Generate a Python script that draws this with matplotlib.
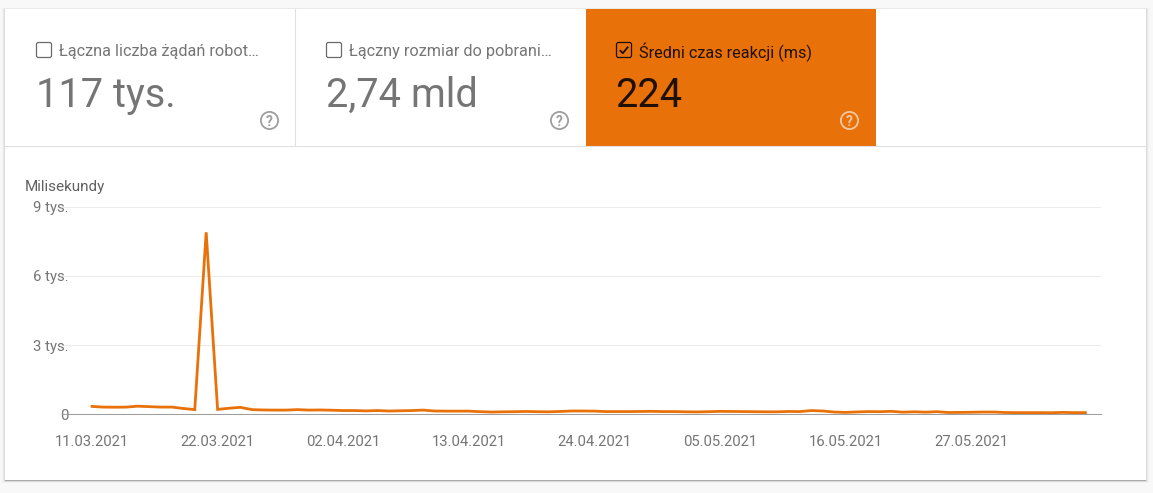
import matplotlib
matplotlib.use("Agg")
import matplotlib.pyplot as plt
import matplotlib.dates as mdates
from matplotlib.patches import Rectangle, FancyBboxPatch, Circle
import pandas as pd

plt.rcParams['font.family'] = ['Roboto', 'DejaVu Sans']

W, H = 1153, 493

response_ms = [330, 300, 295, 300, 340, 320, 300, 300, 240, 190, 7900, 200, 250, 290, 190,
               175, 170, 170, 190, 170, 175, 165, 150, 150, 135, 150, 130, 140, 150, 170,
               130, 125, 125, 125, 100, 85, 95, 100, 110, 100, 95, 110, 130, 130, 125,
               105, 105, 105, 110, 115, 105, 105, 95, 90, 100, 115, 110, 105, 100, 95,
               95, 110, 105, 150, 130, 85, 70, 90, 105, 100, 115, 80, 95, 80, 100,
               65, 70, 75, 85, 85, 65, 60, 60, 60, 55, 70, 60, 60]
start_date = "2021-03-11"
tick_dates = ["2021-03-11", "2021-03-22", "2021-04-02", "2021-04-13",
              "2021-04-24", "2021-05-05", "2021-05-16", "2021-05-27"]
tick_labels = ["11.03.2021", "22.03.2021", "02.04.2021", "13.04.2021",
               "24.04.2021", "05.05.2021", "16.05.2021", "27.05.2021"]
y_ticks = [0, 3000, 6000, 9000]
y_labels = ["0", "3 tys.", "6 tys.", "9 tys."]
card_titles = ["Łączna liczba żądań robot…", "Łączny rozmiar do pobrani…", "Średni czas reakcji (ms)"]
card_values = ["117 tys.", "2,74 mld", "224"]
card_selected = [False, False, True]

ORANGE = "#E8710A"
GREY = "#757575"
DARK = "#1F1005"

fig = plt.figure(figsize=(W / 100, H / 100), dpi=100, facecolor="#F8F8F8")

# page furniture, in pixel coordinates
bg = fig.add_axes([0, 0, 1, 1])
bg.set_xlim(0, W)
bg.set_ylim(H, 0)
bg.axis("off")

for grow, drop, a in [(3, 2.5, 0.02), (2, 2, 0.04), (1, 1.5, 0.06), (0.4, 1, 0.1), (0, 0.5, 0.14)]:
    bg.add_patch(Rectangle((5 - grow, 9 - grow * 0.5), 1141 + 2 * grow, 471 + grow * 0.5 + drop,
                           fc="black", ec="none", alpha=a))
bg.add_patch(Rectangle((5, 9), 1141, 471, fc="white", ec="none"))

bg.plot([5, 1146], [145.8, 145.8], color="#E0E0E0", lw=0.75)
bg.plot([294.8, 294.8], [9, 146], color="#E0E0E0", lw=0.75)
bg.add_patch(Rectangle((586, 9), 290, 138, fc=ORANGE, ec="none"))

card_x = [36, 326, 616]
for x, title, value, sel in zip(card_x, card_titles, card_values, card_selected):
    col = DARK if sel else GREY
    bg.add_patch(FancyBboxPatch((x + 0.5, 42.5), 15, 15, boxstyle="round,pad=0,rounding_size=2",
                                fc="none", ec=DARK if sel else "#6A6A6A", lw=0.9))
    if sel:
        bg.plot([x + 3.8, x + 6.8, x + 12.2], [50.2, 53.2, 46.6], color=DARK, lw=1.3,
                solid_capstyle="butt")
    bg.text(x + 23, 50, title, fontsize=11.7, color=col, va="center_baseline", ha="left")
    bg.text(x - 0.5, 107, value, fontsize=28.6, color=col, va="baseline", ha="left")
    qcol = "#F5C8A0" if sel else "#9E9E9E"
    bg.add_patch(Circle((x + 233.5, 120.5), 8.6, fc="none", ec=qcol, lw=1.3))
    bg.text(x + 233.5, 120.8, "?", fontsize=10, fontweight="bold", color=qcol,
            ha="center", va="center_baseline")

bg.text(25, 186, "Milisekundy", fontsize=11, color="#616161", va="center_baseline", ha="left")

# chart
X0, X1, Y0, Y1 = 62, 1101, 414, 207
ax = fig.add_axes([X0 / W, 1 - Y0 / H, (X1 - X0) / W, (Y0 - Y1) / H])
ax.patch.set_alpha(0)
dates = pd.date_range(start_date, periods=len(response_ms), freq="D")
ticks = pd.to_datetime(tick_dates)
px_per_day = 125.6 / 11
d0 = mdates.date2num(ticks[0])
ax.set_xlim(d0 - (92 - X0) / px_per_day, d0 + (X1 - 92) / px_per_day)
ax.set_ylim(0, 9000)

ax.set_yticks(y_ticks, y_labels)
ax.set_xticks(mdates.date2num(ticks), tick_labels)
ax.grid(axis="y", color="#EBEBEB", lw=0.75)
ax.set_axisbelow(True)
ax.tick_params(axis="both", length=0, labelsize=10.75, labelcolor="#757575")
ax.tick_params(axis="x", pad=15.3)
ax.tick_params(axis="y", pad=-5)
for s in ["top", "left", "right"]:
    ax.spines[s].set_visible(False)
ax.spines["bottom"].set_color("#9E9E9E")
ax.spines["bottom"].set_linewidth(0.75)

ax.plot(mdates.date2num(dates), response_ms, color=ORANGE, lw=2, solid_joinstyle="miter",
        clip_on=False, zorder=3)

fig.savefig("out.png", dpi=100, facecolor=fig.get_facecolor())
